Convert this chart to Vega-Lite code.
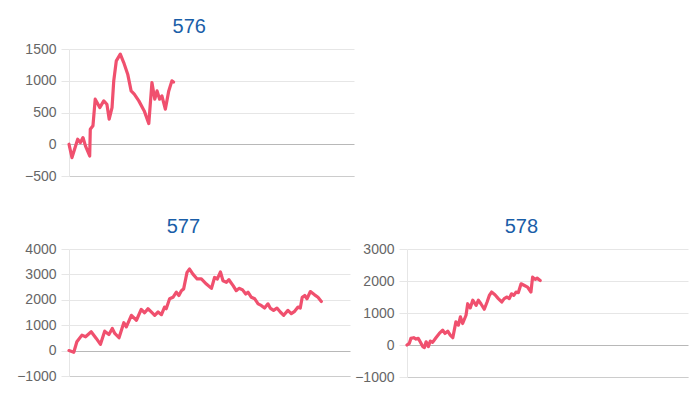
{
  "$schema": "https://vega.github.io/schema/vega-lite/v6.json",
  "padding": {"left": 16, "top": 17, "right": 5, "bottom": 5},
  "background": "white",
  "config": {
    "view": {"stroke": null},
    "font": "Liberation Sans",
    "axis": {"labelFont": "Liberation Sans", "labelFontSize": 14, "labelColor": "#666666", "format": "d"},
    "title": {"font": "Liberation Sans", "fontSize": 20, "fontWeight": "normal", "color": "#1a5ea8", "frame": "bounds", "anchor": "middle", "offset": 5},
    "concat": {"spacing": 4}
  },
  "datasets": {
    "d576": [
      {"x": 0, "y": 0}, {"x": 1.05, "y": -210}, {"x": 3.05, "y": 80}, {"x": 3.96, "y": 25}, {"x": 4.9, "y": 105},
      {"x": 5.8, "y": -30}, {"x": 7.26, "y": -185}, {"x": 7.47, "y": 236}, {"x": 8.4, "y": 290}, {"x": 9.2, "y": 710},
      {"x": 10.8, "y": 577}, {"x": 12.2, "y": 683}, {"x": 13.3, "y": 630}, {"x": 14.1, "y": 394}, {"x": 15.1, "y": 577},
      {"x": 15.7, "y": 998}, {"x": 16.6, "y": 1314}, {"x": 18.0, "y": 1420}, {"x": 19.2, "y": 1287}, {"x": 20.6, "y": 1104},
      {"x": 21.8, "y": 840}, {"x": 22.9, "y": 789}, {"x": 24.5, "y": 683}, {"x": 26.4, "y": 525}, {"x": 28.0, "y": 325},
      {"x": 29.1, "y": 972}, {"x": 30.1, "y": 710}, {"x": 30.9, "y": 840}, {"x": 31.8, "y": 710}, {"x": 32.6, "y": 762},
      {"x": 33.8, "y": 552}, {"x": 35.0, "y": 840}, {"x": 36.1, "y": 998}, {"x": 36.7, "y": 980}
    ],
    "d577": [
      {"x": 0, "y": 0}, {"x": 1.7, "y": -65}, {"x": 2.8, "y": 350}, {"x": 4.6, "y": 610}, {"x": 5.9, "y": 545},
      {"x": 7.9, "y": 740}, {"x": 9.7, "y": 480}, {"x": 11.2, "y": 247}, {"x": 12.7, "y": 766}, {"x": 14.2, "y": 636},
      {"x": 15.4, "y": 870}, {"x": 16.3, "y": 675}, {"x": 17.8, "y": 506}, {"x": 19.5, "y": 1100}, {"x": 20.4, "y": 935},
      {"x": 22.2, "y": 1390}, {"x": 24.0, "y": 1195}, {"x": 25.7, "y": 1620}, {"x": 26.9, "y": 1490}, {"x": 28.1, "y": 1650},
      {"x": 29.9, "y": 1455}, {"x": 30.5, "y": 1390}, {"x": 31.7, "y": 1520}, {"x": 32.9, "y": 1415}, {"x": 34.0, "y": 1715},
      {"x": 34.6, "y": 1650}, {"x": 35.8, "y": 2040}, {"x": 37.0, "y": 2100}, {"x": 38.2, "y": 2300}, {"x": 39.1, "y": 2170},
      {"x": 40.0, "y": 2360}, {"x": 40.8, "y": 2430}, {"x": 42.0, "y": 3080}, {"x": 42.9, "y": 3210}, {"x": 44.1, "y": 3010},
      {"x": 45.6, "y": 2820}, {"x": 47.1, "y": 2820}, {"x": 48.9, "y": 2620}, {"x": 50.7, "y": 2450}, {"x": 51.8, "y": 2880},
      {"x": 52.8, "y": 2820}, {"x": 53.9, "y": 3100}, {"x": 54.8, "y": 2750}, {"x": 56.0, "y": 2690}, {"x": 56.9, "y": 2790},
      {"x": 58.4, "y": 2560}, {"x": 59.5, "y": 2360}, {"x": 60.5, "y": 2450}, {"x": 61.7, "y": 2400}, {"x": 62.9, "y": 2230},
      {"x": 63.7, "y": 2300}, {"x": 64.9, "y": 2100}, {"x": 66.1, "y": 2040}, {"x": 67.3, "y": 1840}, {"x": 68.4, "y": 1780},
      {"x": 69.6, "y": 1675}, {"x": 70.8, "y": 1840}, {"x": 71.6, "y": 1675}, {"x": 72.8, "y": 1585}, {"x": 74.0, "y": 1675},
      {"x": 75.2, "y": 1520}, {"x": 76.4, "y": 1390}, {"x": 77.9, "y": 1585}, {"x": 79.1, "y": 1455}, {"x": 80.3, "y": 1545},
      {"x": 81.5, "y": 1715}, {"x": 82.3, "y": 1675}, {"x": 83.0, "y": 2100}, {"x": 83.9, "y": 2170}, {"x": 84.7, "y": 2040},
      {"x": 85.9, "y": 2325}, {"x": 87.4, "y": 2195}, {"x": 88.6, "y": 2100}, {"x": 89.8, "y": 1935}
    ],
    "d578": [
      {"x": 0, "y": 0}, {"x": 0.8, "y": 50}, {"x": 1.4, "y": 207}, {"x": 2.4, "y": 228}, {"x": 3.2, "y": 186},
      {"x": 4.0, "y": 207}, {"x": 4.7, "y": 100}, {"x": 5.6, "y": -50}, {"x": 6.2, "y": -80}, {"x": 6.8, "y": 100},
      {"x": 7.6, "y": -50}, {"x": 8.3, "y": 124}, {"x": 9.1, "y": 83}, {"x": 10.3, "y": 228}, {"x": 11.5, "y": 360},
      {"x": 12.7, "y": 465}, {"x": 13.5, "y": 360}, {"x": 14.5, "y": 434}, {"x": 15.4, "y": 310}, {"x": 16.3, "y": 228},
      {"x": 17.4, "y": 724}, {"x": 18.3, "y": 620}, {"x": 19.0, "y": 880}, {"x": 19.8, "y": 672}, {"x": 21.0, "y": 930},
      {"x": 21.6, "y": 1290}, {"x": 22.5, "y": 1160}, {"x": 23.4, "y": 1400}, {"x": 24.6, "y": 1240}, {"x": 25.4, "y": 1400},
      {"x": 26.3, "y": 1290}, {"x": 27.5, "y": 1117}, {"x": 28.5, "y": 1344}, {"x": 29.3, "y": 1550}, {"x": 30.1, "y": 1655},
      {"x": 31.3, "y": 1570}, {"x": 32.5, "y": 1450}, {"x": 33.7, "y": 1344}, {"x": 34.6, "y": 1450}, {"x": 35.6, "y": 1500},
      {"x": 36.4, "y": 1450}, {"x": 37.2, "y": 1600}, {"x": 38.0, "y": 1550}, {"x": 38.8, "y": 1655}, {"x": 39.6, "y": 1634},
      {"x": 40.6, "y": 1913}, {"x": 41.8, "y": 1860}, {"x": 42.9, "y": 1810}, {"x": 44.1, "y": 1655}, {"x": 44.7, "y": 2120},
      {"x": 45.6, "y": 2050}, {"x": 46.3, "y": 2090}, {"x": 47.4, "y": 2016}
    ]
  },
  "columns": 1,
  "align": "none",
  "spacing": 34,
  "concat": [
    {
      "title": "576",
      "width": 285,
      "height": 127,
      "data": {"name": "d576"},
      "mark": {"type": "line", "color": "#f0506e", "strokeWidth": 3.2, "strokeJoin": "round", "strokeCap": "round"},
      "encoding": {
        "x": {"field": "x", "type": "quantitative", "scale": {"domain": [0, 100]}, "axis": {"title": null, "labels": false, "ticks": false, "grid": false, "domainColor": "#cccccc"}},
        "y": {"field": "y", "type": "quantitative", "scale": {"domain": [-500, 1500], "nice": false}, "axis": {"title": null, "format": "d", "values": [-500, 0, 500, 1000, 1500], "tickSize": 8, "tickColor": "#e6e6e6", "labelPadding": 5, "domainColor": "#e6e6e6", "gridColor": {"condition": {"test": "datum.value === 0", "value": "#b8b8b8"}, "value": "#e6e6e6"}}}
      }
    },
    {
      "hconcat": [
        {
          "title": "577",
          "width": 281,
          "height": 127,
          "data": {"name": "d577"},
          "mark": {"type": "line", "color": "#f0506e", "strokeWidth": 3.2, "strokeJoin": "round", "strokeCap": "round"},
          "encoding": {
            "x": {"field": "x", "type": "quantitative", "scale": {"domain": [0, 100]}, "axis": {"title": null, "labels": false, "ticks": false, "grid": false, "domainColor": "#cccccc"}},
            "y": {"field": "y", "type": "quantitative", "scale": {"domain": [-1000, 4000], "nice": false}, "axis": {"title": null, "format": "d", "values": [-1000, 0, 1000, 2000, 3000, 4000], "tickSize": 8, "tickColor": "#e6e6e6", "labelPadding": 5, "domainColor": "#e6e6e6", "gridColor": {"condition": {"test": "datum.value === 0", "value": "#b8b8b8"}, "value": "#e6e6e6"}}}
          }
        },
        {
          "title": "578",
          "width": 281,
          "height": 128,
          "data": {"name": "d578"},
          "mark": {"type": "line", "color": "#f0506e", "strokeWidth": 3.2, "strokeJoin": "round", "strokeCap": "round"},
          "encoding": {
            "x": {"field": "x", "type": "quantitative", "scale": {"domain": [0, 100]}, "axis": {"title": null, "labels": false, "ticks": false, "grid": false, "domainColor": "#cccccc"}},
            "y": {"field": "y", "type": "quantitative", "scale": {"domain": [-1000, 3000], "nice": false}, "axis": {"title": null, "format": "d", "values": [-1000, 0, 1000, 2000, 3000], "tickSize": 8, "tickColor": "#e6e6e6", "labelPadding": 5, "domainColor": "#e6e6e6", "gridColor": {"condition": {"test": "datum.value === 0", "value": "#b8b8b8"}, "value": "#e6e6e6"}}}
          }
        }
      ]
    }
  ]
}
